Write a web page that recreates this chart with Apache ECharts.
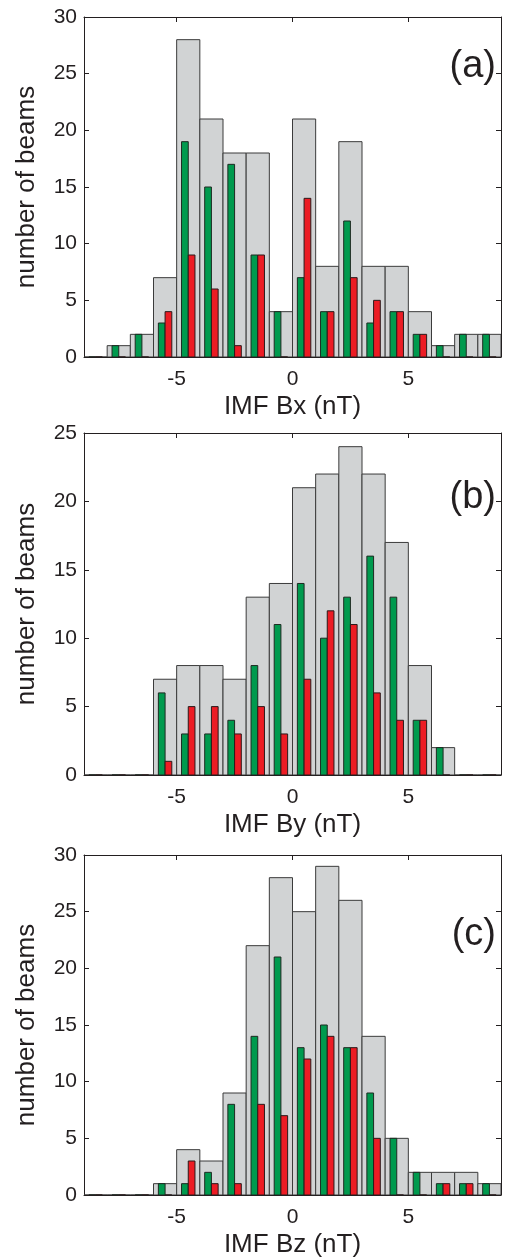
<!DOCTYPE html>
<html>
<head>
<meta charset="utf-8">
<script src="https://cdn.jsdelivr.net/npm/echarts@6/dist/echarts.min.js"></script>
<style>
html, body { margin: 0; padding: 0; background: #fff; }
#chart { width: 505px; height: 1259px; }
</style>
</head>
<body>
<div id="chart"></div>
<script>
// bin centres in nT, every bin is 1 nT wide
const binCenters = [-8.5, -7.5, -6.5, -5.5, -4.5, -3.5, -2.5, -1.5, -0.5,
    0.5, 1.5, 2.5, 3.5, 4.5, 5.5, 6.5, 7.5, 8.5]
const xTicks = [-5, 0, 5]

// (a) IMF Bx
const bxAll = [0, 1, 2, 7, 28, 21, 18, 18, 4, 21, 8, 19, 8, 8, 4, 1, 2, 2]
const bxGreen = [0, 1, 2, 3, 19, 15, 17, 9, 4, 7, 4, 12, 3, 4, 2, 1, 2, 2]
const bxRed = [0, 0, 0, 4, 9, 6, 1, 9, 0, 14, 4, 7, 5, 4, 2, 0, 0, 0]

// (b) IMF By
const byAll = [0, 0, 0, 7, 8, 8, 7, 13, 14, 21, 22, 24, 22, 17, 8, 2, 0, 0]
const byGreen = [0, 0, 0, 6, 3, 3, 4, 8, 11, 14, 10, 13, 16, 13, 4, 2, 0, 0]
const byRed = [0, 0, 0, 1, 5, 5, 3, 5, 3, 7, 12, 11, 6, 4, 4, 0, 0, 0]

// (c) IMF Bz
const bzAll = [0, 0, 0, 1, 4, 3, 9, 22, 28, 25, 29, 26, 14, 5, 2, 2, 2, 1]
const bzGreen = [0, 0, 0, 1, 1, 2, 8, 14, 21, 13, 15, 13, 9, 5, 2, 1, 1, 1]
const bzRed = [0, 0, 0, 0, 3, 1, 1, 8, 7, 12, 14, 13, 5, 0, 0, 1, 1, 0]

const FONT = 'Liberation Sans, Arial, sans-serif'
const INK = '#231f20'

const panels = [
    { tag: '(a)', xName: 'IMF Bx (nT)', yMax: 30, all: bxAll, green: bxGreen, red: bxRed, top: 17, height: 340, tagY: 67 },
    { tag: '(b)', xName: 'IMF By (nT)', yMax: 25, all: byAll, green: byGreen, red: byRed, top: 433, height: 342, tagY: 498 },
    { tag: '(c)', xName: 'IMF Bz (nT)', yMax: 30, all: bzAll, green: bzGreen, red: bzRed, top: 855, height: 341, tagY: 935 }
]

// rectangle from (centre+lo .. centre+hi) x (0 .. value), through the axis scales
const barItem = (lo, hi, fill, stroke) => (params, api) => {
    const c = api.value(0)
    const v = api.value(1)
    const p0 = api.coord([c + lo, v])
    const p1 = api.coord([c + hi, 0])
    return {
        type: 'rect',
        shape: { x: p0[0], y: p0[1], width: p1[0] - p0[0], height: p1[1] - p0[1] },
        style: { fill: fill, stroke: stroke, lineWidth: 1 }
    }
}

const zip = arr => binCenters.map((c, i) => [c, arr[i]])

const grid = [], xAxis = [], yAxis = [], series = [], graphic = []

panels.forEach((p, i) => {
    grid.push({ left: 84, right: 4, top: p.top, height: p.height })
    const tick = { show: true, inside: true, length: 5, lineStyle: { color: INK, width: 1 } }
    const line = { show: true, onZero: false, lineStyle: { color: INK, width: 1 } }
    xAxis.push({
        type: 'value', gridIndex: i, min: -9, max: 9, position: 'bottom',
        axisLine: line, splitLine: { show: false },
        axisTick: Object.assign({ customValues: xTicks }, tick),
        axisLabel: { customValues: xTicks, fontSize: 21, color: INK, fontFamily: FONT, margin: 12 },
        name: p.xName, nameLocation: 'middle', nameGap: 37,
        nameTextStyle: { fontSize: 26, color: INK, fontFamily: FONT }
    })
    xAxis.push({
        type: 'value', gridIndex: i, min: -9, max: 9, position: 'top',
        axisLine: line, splitLine: { show: false },
        axisTick: Object.assign({ customValues: xTicks }, tick),
        axisLabel: { show: false }
    })
    yAxis.push({
        type: 'value', gridIndex: i, min: 0, max: p.yMax, interval: 5, position: 'left',
        axisLine: line, splitLine: { show: false }, axisTick: tick,
        axisLabel: { fontSize: 21, color: INK, fontFamily: FONT, margin: 7 },
        name: 'number of beams', nameLocation: 'middle', nameGap: 44,
        nameTextStyle: { fontSize: 26, color: INK, fontFamily: FONT }
    })
    yAxis.push({
        type: 'value', gridIndex: i, min: 0, max: p.yMax, interval: 5, position: 'right',
        axisLine: line, splitLine: { show: false }, axisTick: tick,
        axisLabel: { show: false }
    })
    const axes = { xAxisIndex: 2 * i, yAxisIndex: 2 * i }
    series.push(Object.assign({ type: 'custom', clip: true, z: 2,
        renderItem: barItem(-0.5, 0.5, '#d1d3d4', '#3b3b3b'), data: zip(p.all) }, axes))
    series.push(Object.assign({ type: 'custom', clip: true, z: 3,
        renderItem: barItem(-0.29, 0, '#009a4e', '#1e2a22'), data: zip(p.green) }, axes))
    series.push(Object.assign({ type: 'custom', clip: true, z: 3,
        renderItem: barItem(0, 0.29, '#ec1c24', '#2a1a1a'), data: zip(p.red) }, axes))
    graphic.push({
        type: 'text', x: 496, y: p.tagY, z: 10,
        style: { text: p.tag, font: '38px ' + FONT, fill: INK, align: 'right', verticalAlign: 'middle' }
    })
})

const chart = echarts.init(document.getElementById('chart'))
chart.setOption({
    animation: false,
    backgroundColor: '#fff',
    grid: grid,
    xAxis: xAxis,
    yAxis: yAxis,
    series: series,
    graphic: graphic
})
</script>
</body>
</html>
